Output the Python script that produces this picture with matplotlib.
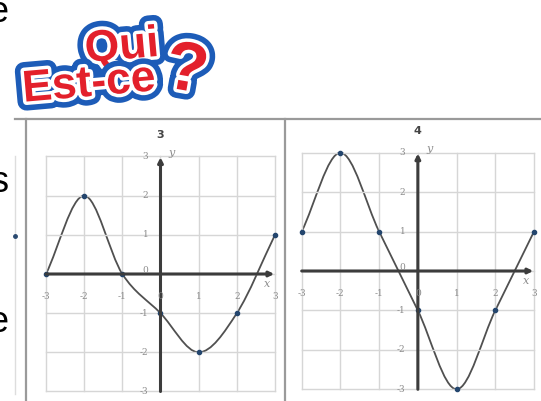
import matplotlib
matplotlib.use("Agg")
import matplotlib.pyplot as plt
import matplotlib.patheffects as pe
from matplotlib.path import Path
from matplotlib.patches import PathPatch

# data
xs = [-3, -2, -1, 0, 1, 2, 3]
y3 = [0, 2, 0, -1, -2, -1, 1]
y4 = [1, 3, 1, -1, -3, -1, 1]
ticks = [-3, -2, -1, 0, 1, 2, 3]
titles = ["3", "4"]

W, H = 541, 401
fig = plt.figure(figsize=(W / 100, H / 100), dpi=100)
fig.patch.set_facecolor("white")

# page canvas in pixel coordinates
bg = fig.add_axes([0, 0, 1, 1])
bg.set_xlim(0, W)
bg.set_ylim(H, 0)
bg.axis("off")

# bits of the page around the graphs (cut off at the left edge, as in the screenshot)
for s, yy in [("e", 22), ("s", 192), ("e", 332)]:
    bg.text(9, yy, s, fontsize=26, family="Liberation Sans", ha="right", va="baseline", color="black")
bg.plot([15, 15], [156, 394], color="#dddddd", lw=1)
bg.plot([15], [236], "o", color="#2a4a70", ms=2.5)
bg.plot([15, 541], [119, 119], color="#9a9a9a", lw=1.6)
bg.plot([26, 26], [119, 401], color="#9a9a9a", lw=1.6)
bg.plot([285, 285], [119, 401], color="#9a9a9a", lw=1.6)

# logo
logo_fx = [pe.Stroke(linewidth=13, foreground="#1d5cb8"),
           pe.Stroke(linewidth=5, foreground="white"), pe.Normal()]
red = "#e3202b"
bg.text(123, 59, "Qui", fontsize=32, weight="bold", family="Liberation Sans", color=red,
        ha="center", va="baseline", rotation=5, rotation_mode="anchor", path_effects=logo_fx)
bg.text(90, 96, "Est-ce", fontsize=32, weight="bold", family="Liberation Sans", color=red,
        ha="center", va="baseline", rotation=5, rotation_mode="anchor", path_effects=logo_fx)
bg.text(183, 90, "?", fontsize=50, weight="bold", family="Liberation Sans", color=red,
        ha="center", va="baseline", rotation=-10, rotation_mode="anchor", path_effects=logo_fx)


def smooth_path(px, py):
    # cubic bezier segments through the points (catmull-rom tangents)
    n = len(px)
    mx, my = [], []
    for i in range(n):
        a = max(i - 1, 0)
        b = min(i + 1, n - 1)
        mx.append((px[b] - px[a]) / (b - a))
        my.append((py[b] - py[a]) / (b - a))
    verts = [(px[0], py[0])]
    codes = [Path.MOVETO]
    for i in range(n - 1):
        verts += [(px[i] + mx[i] / 3, py[i] + my[i] / 3),
                  (px[i + 1] - mx[i + 1] / 3, py[i + 1] - my[i + 1] / 3),
                  (px[i + 1], py[i + 1])]
        codes += [Path.CURVE4] * 3
    return Path(verts, codes)


def make_panel(x_m3, x_p3, y_p3, y_m3, yvals, title):
    ux = (x_p3 - x_m3) / 6
    uy = (y_m3 - y_p3) / 6
    x0, x1, y0, y1 = -3.4, 3.4, -3.4, 3.8
    left = x_m3 - (-3 - x0) * ux
    top = y_p3 - (y1 - 3) * uy
    w = (x1 - x0) * ux
    h = (y1 - y0) * uy
    ax = fig.add_axes([left / W, 1 - (top + h) / H, w / W, h / H])
    ax.set_xlim(x0, x1)
    ax.set_ylim(y0, y1)
    ax.axis("off")
    ax.patch.set_alpha(0)

    for t in ticks:
        ax.plot([t, t], [-3, 3], color="#d6d6d6", lw=1, clip_on=False)
        ax.plot([-3, 3], [t, t], color="#d6d6d6", lw=1, clip_on=False)

    ax.annotate("", xy=(2.98, 0), xytext=(-3, 0),
                arrowprops=dict(arrowstyle="-|>", lw=2.2, color="#3c3c3c", mutation_scale=7,
                                shrinkA=0, shrinkB=0))
    ax.annotate("", xy=(0, 2.98), xytext=(0, -3),
                arrowprops=dict(arrowstyle="-|>", lw=2.2, color="#3c3c3c", mutation_scale=7,
                                shrinkA=0, shrinkB=0))

    for t in ticks:
        ax.text(t, -0.58, str(t), fontsize=6.5, family="DejaVu Serif", color="#8c8c8c",
                ha="center", va="center")
        ax.text(-0.32, t + (0.1 if t == 0 else 0), str(t), fontsize=6.5, family="DejaVu Serif",
                color="#8c8c8c", ha="right", va="center")
    ax.text(0.3, 3.1, "y", fontsize=8, family="DejaVu Serif", style="italic", color="#8c8c8c",
            ha="center", va="center")
    ax.text(2.8, -0.25, "x", fontsize=8, family="DejaVu Serif", style="italic", color="#8c8c8c",
            ha="center", va="center")
    ax.text(-0.02, 3.55, title, fontsize=8, weight="bold", color="#444444", ha="center", va="center")

    ax.add_patch(PathPatch(smooth_path(xs, yvals), facecolor="none", edgecolor="#505050", lw=1.3))
    ax.plot(xs, yvals, "o", color="#24466e", ms=3, clip_on=False)
    return ax


make_panel(46, 275, 156.5, 391.5, y3, titles[0])
make_panel(301.7, 534, 152.7, 389.3, y4, titles[1])

fig.savefig("out.png", dpi=100)
